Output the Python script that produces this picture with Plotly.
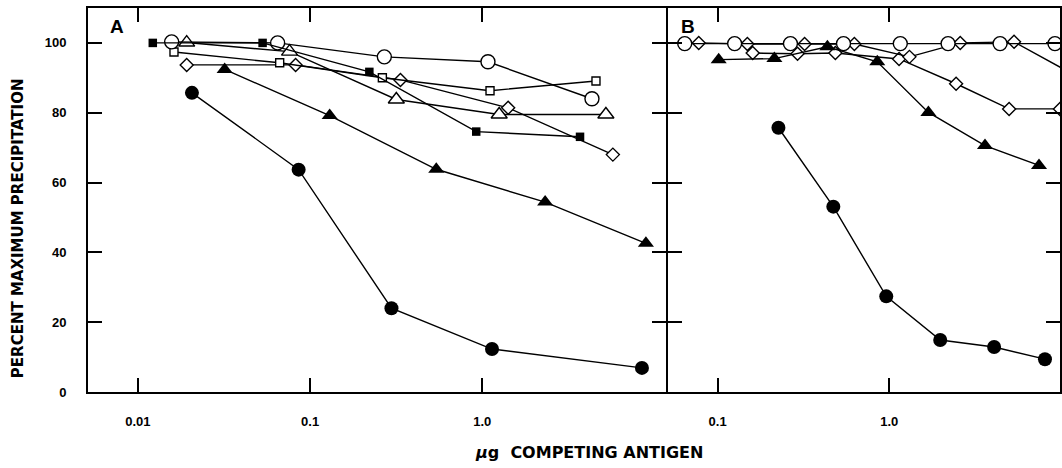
import plotly.graph_objects as go

# ---------------- data ----------------
# Panel A
A_filled_circle_x = [0.0206, 0.0858, 0.297, 1.14, 8.47]
A_filled_circle_y = [85.7, 63.7, 24.0, 12.3, 6.9]
A_filled_tri_x = [0.0319, 0.130, 0.541, 2.32, 8.93]
A_filled_tri_y = [92.4, 79.2, 63.8, 54.4, 42.6]
A_open_circle_x = [0.0157, 0.0648, 0.270, 1.08, 4.34]
A_open_circle_y = [100.3, 100.0, 96.0, 94.6, 84.0]
A_open_tri_x = [0.0192, 0.076, 0.317, 1.255, 5.23]
A_open_tri_y = [100.1, 97.5, 83.8, 79.5, 79.5]
A_open_sq_x = [0.0162, 0.0666, 0.263, 1.11, 4.58]
A_open_sq_y = [97.4, 94.3, 90.0, 86.3, 89.1]
A_filled_sq_x = [0.0122, 0.053, 0.221, 0.923, 3.70]
A_filled_sq_y = [100.0, 100.0, 91.7, 74.6, 73.1]
A_open_dia_x = [0.0192, 0.0824, 0.335, 1.415, 5.74]
A_open_dia_y = [93.7, 93.7, 89.4, 81.4, 68.0]

# Panel B
B_open_circle_x = [0.0643, 0.1256, 0.2655, 0.541, 1.159, 2.20, 4.42, 9.23]
B_open_circle_y = [99.8, 99.8, 99.8, 99.8, 99.8, 99.8, 99.8, 99.8]
B_dia1_x = [0.0776, 0.149, 0.321, 0.626, 1.31, 2.59, 5.33, 10.8]
B_dia1_y = [100.0, 99.7, 99.7, 99.7, 96.0, 100.0, 100.3, 92.0]
B_dia2_x = [0.160, 0.292, 0.485, 1.14, 2.45, 4.99, 9.87]
B_dia2_y = [97.1, 96.9, 97.1, 95.4, 88.3, 81.1, 81.1]
B_filled_tri_x = [0.1014, 0.214, 0.436, 0.851, 1.69, 3.61, 7.45]
B_filled_tri_y = [95.2, 95.5, 98.9, 94.6, 80.1, 70.6, 64.9]
B_filled_circle_x = [0.226, 0.472, 0.96, 1.98, 4.08, 8.07]
B_filled_circle_y = [75.7, 53.1, 27.4, 14.9, 12.9, 9.4]

A_xtick_vals = [0.01, 0.1, 1]
A_xtick_text = ["0.01", "0.1", "1.0"]
B_xtick_vals = [0.1, 1]
B_xtick_text = ["0.1", "1.0"]
y_tick_vals = [0, 20, 40, 60, 80, 100]
y_tick_text = ["0", "20", "40", "60", "80", "100"]

# ---------------- figure ----------------
W, H = 1062, 468
ML, MR, MT, MB = 88, 0, 8, 76
plot_w = W - ML - MR
plot_h = H - MT - MB
split_px = 667
LWA = 2  # axis line width
splitA = (split_px - ML) / plot_w
splitB = (split_px + LWA - ML) / plot_w
wA = split_px - ML
wB = W - split_px - LWA
px_per_decade_A = 172.5
px_per_decade_B = 172.0
A_lo = -2.29
A_hi = A_lo + wA / px_per_decade_A
B_lo = -1.302 + LWA / px_per_decade_B
B_hi = B_lo + wB / px_per_decade_B
Y_MAX = 110

LW = 1.4
fig = go.Figure()


def add(x, y, symbol, size, filled, xa, ya):
    fig.add_trace(go.Scatter(
        x=x, y=y, mode="lines+markers", xaxis=xa, yaxis=ya,
        line=dict(color="black", width=LW),
        marker=dict(symbol=symbol, size=size,
                    color="black" if filled else "white",
                    line=dict(color="black", width=0 if filled else 1.4)),
        showlegend=False, cliponaxis=False, hoverinfo="skip"))


# panel A
add(A_open_dia_x, A_open_dia_y, "diamond", 10, False, "x", "y")
add(A_open_sq_x, A_open_sq_y, "square", 8, False, "x", "y")
add(A_open_tri_x, A_open_tri_y, "triangle-up", 14, False, "x", "y")
add(A_open_circle_x, A_open_circle_y, "circle", 14, False, "x", "y")
add(A_filled_sq_x, A_filled_sq_y, "square", 8.5, True, "x", "y")
add(A_filled_tri_x, A_filled_tri_y, "triangle-up", 14, True, "x", "y")
add(A_filled_circle_x, A_filled_circle_y, "circle", 14, True, "x", "y")

# panel B
add(B_dia2_x, B_dia2_y, "diamond", 10, False, "x2", "y2")
add(B_dia1_x, B_dia1_y, "diamond", 10, False, "x2", "y2")
add(B_open_circle_x, B_open_circle_y, "circle", 14, False, "x2", "y2")
add(B_filled_tri_x, B_filled_tri_y, "triangle-up", 14, True, "x2", "y2")
add(B_filled_circle_x, B_filled_circle_y, "circle", 14, True, "x2", "y2")

tickfont = dict(family="Liberation Sans", size=13, color="black")
axis_common = dict(showline=True, linecolor="black", linewidth=LWA, mirror="ticks",
                   ticks="inside", ticklen=14, tickwidth=2, tickcolor="black",
                   showgrid=False, zeroline=False, tickfont=tickfont, layer="above traces")

fig.update_layout(
    width=W, height=H,
    margin=dict(l=ML, r=MR, t=MT, b=MB, pad=0),
    paper_bgcolor="white", plot_bgcolor="white",
    xaxis=dict(type="log", domain=[0, splitA], range=[A_lo, A_hi], anchor="y",
               tickvals=A_xtick_vals, ticktext=["<b>%s</b>" % t for t in A_xtick_text],
               ticklabelstandoff=16, **axis_common),
    yaxis=dict(range=[0, Y_MAX], domain=[0, 1], anchor="x",
               tickvals=y_tick_vals, ticktext=["<b>%s</b>" % t for t in y_tick_text],
               ticklabelstandoff=17, **axis_common),
    xaxis2=dict(type="log", domain=[splitB, 1], range=[B_lo, B_hi], anchor="y2",
                tickvals=B_xtick_vals, ticktext=["<b>%s</b>" % t for t in B_xtick_text],
                ticklabelstandoff=16, **axis_common),
    yaxis2=dict(range=[0, Y_MAX], domain=[0, 1], anchor="x2",
                tickvals=y_tick_vals, showticklabels=False, **axis_common),
)

fig.add_annotation(text="<b>A</b>", xref="paper", yref="paper",
                   x=(108 - ML) / plot_w, y=(392 - 27) / plot_h,
                   xanchor="left", yanchor="middle", showarrow=False,
                   font=dict(family="Liberation Sans", size=19, color="black"))
fig.add_annotation(text="<b>B</b>", xref="paper", yref="paper",
                   x=(680 - ML) / plot_w, y=(392 - 27) / plot_h,
                   xanchor="left", yanchor="middle", showarrow=False,
                   font=dict(family="Liberation Sans", size=19, color="black"))
fig.add_annotation(text="<b>PERCENT MAXIMUM PRECIPITATION</b>", xref="paper", yref="paper",
                   x=(18 - ML) / plot_w, y=(392 - 228) / plot_h, textangle=-90,
                   xanchor="center", yanchor="middle", showarrow=False,
                   font=dict(family="DejaVu Sans", size=15, color="black"))
fig.add_annotation(text="<b><i>μ</i>g  COMPETING ANTIGEN</b>", xref="paper", yref="paper",
                   x=(590 - ML) / plot_w, y=(392 - 452) / plot_h,
                   xanchor="center", yanchor="middle", showarrow=False,
                   font=dict(family="DejaVu Sans", size=16, color="black"))

fig.write_html("out.html")
